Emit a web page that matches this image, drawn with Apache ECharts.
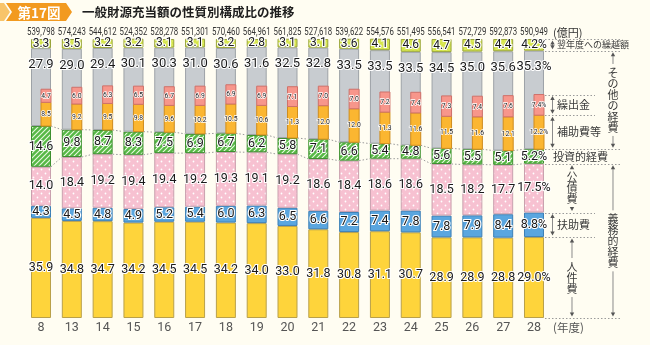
<!DOCTYPE html>
<html>
<head>
<meta charset="utf-8">
<script src="https://cdn.jsdelivr.net/npm/echarts@6/dist/echarts.min.js"></script>
<style>
  html, body { margin: 0; padding: 0; background: #fffdf2; }
  #chart { width: 650px; height: 345px; }
</style>
</head>
<body>
<div id="chart"></div>
<script>
// 年度 (category axis)
const years = ['8', '13', '14', '15', '16', '17', '18', '19', '20', '21', '22', '23', '24', '25', '26', '27', '28'];
// 一般財源充当額の合計 (億円)
const totals = ['539,798', '574,243', '544,612', '524,352', '528,278', '551,301', '570,460', '564,961', '561,825',
                '527,618', '539,622', '554,576', '551,495', '556,541', '572,729', '592,873', '590,949'];

// 構成比 (%)
const personnel  = [35.9, 34.8, 34.7, 34.2, 34.5, 34.5, 34.2, 34.0, 33.0, 31.8, 30.8, 31.1, 30.7, 28.9, 28.9, 28.8, 29.0]; // 人件費
const assistance = [4.3, 4.5, 4.8, 4.9, 5.2, 5.4, 6.0, 6.3, 6.5, 6.6, 7.2, 7.4, 7.8, 7.8, 7.9, 8.4, 8.8];                 // 扶助費
const debt       = [14.0, 18.4, 19.2, 19.4, 19.4, 19.2, 19.3, 19.1, 19.2, 18.6, 18.4, 18.6, 18.6, 18.5, 18.2, 17.7, 17.5]; // 公債費
const investment = [14.6, 9.8, 8.7, 8.3, 7.5, 6.9, 6.7, 6.2, 5.8, 7.1, 6.6, 5.4, 4.8, 5.6, 5.5, 5.1, 5.2];                 // 投資的経費
const other      = [27.9, 29.0, 29.4, 30.1, 30.3, 31.0, 30.6, 31.6, 32.5, 32.8, 33.5, 33.5, 33.5, 34.5, 35.0, 35.6, 35.3]; // その他の経費
const carryover  = [3.3, 3.5, 3.2, 3.2, 3.1, 3.1, 3.2, 2.8, 3.1, 3.1, 3.6, 4.1, 4.6, 4.7, 4.5, 4.4, 4.2];                 // 翌年度への繰越額
// その他の経費の内訳
const subsidies  = [8.5, 9.2, 9.5, 9.8, 9.6, 10.2, 10.5, 10.6, 11.3, 12.0, 12.0, 11.3, 11.6, 11.5, 11.6, 12.1, 12.2];     // 補助費等
const transfers  = [4.7, 6.0, 6.3, 6.5, 6.7, 6.9, 6.9, 6.9, 7.1, 7.0, 7.0, 7.2, 7.4, 7.3, 7.4, 7.6, 7.4];                 // 繰出金

const BAR_W = 20;
const LAST = years.length - 1;
const BG = '#fffdf2';
const NUM_FONT = 'Roboto, "Noto Sans", sans-serif';
const JP_FONT = '"Noto Sans CJK JP", "Noto Sans", sans-serif';

// running sums used as the base of stacked pieces and connector lines
const sumUpTo = (arrs) => years.map((_, i) => arrs.reduce((s, a) => s + a[i], 0));
const cumDebtTop = sumUpTo([personnel, assistance, debt]);
const cumInvTop = sumUpTo([personnel, assistance, debt, investment]);
const cumAll = sumUpTo([personnel, assistance, debt, investment, other, carryover]);

function makePattern(bg, draw, w, h) {
  const c = document.createElement('canvas');
  c.width = w; c.height = h;
  const g = c.getContext('2d');
  g.fillStyle = bg; g.fillRect(0, 0, w, h);
  draw(g);
  return { image: c, repeat: 'repeat' };
}
const dot = (g, x, y, r) => { g.beginPath(); g.arc(x, y, r, 0, Math.PI * 2); g.fill(); };
const pinkDots = makePattern('#f7c1d1', g => { g.fillStyle = '#ffffff'; dot(g, 1.5, 1.5, 0.9); dot(g, 5.5, 5.5, 0.9); }, 8, 8);
const greenHatch = makePattern('#56b845', g => {
  g.strokeStyle = '#e8f8e0'; g.lineWidth = 1.1;
  g.beginPath();
  g.moveTo(-1, 6); g.lineTo(6, -1);
  g.moveTo(-1, 1); g.lineTo(1, -1);
  g.moveTo(4, 6); g.lineTo(6, 4);
  g.stroke();
}, 5, 5);
const limeDots = makePattern('#d5e548', g => { g.fillStyle = '#eaf3a0'; dot(g, 1, 1, 0.6); dot(g, 3, 3, 0.6); }, 4, 4);

const pctFmt = (p) => p.value.toFixed(1) + (p.dataIndex === LAST ? '%' : '');
const baseLabel = {
  show: true, position: 'inside', formatter: pctFmt,
  fontFamily: NUM_FONT, fontSize: 12.5, color: '#1a1a1a',
  textBorderColor: '#ffffff', textBorderWidth: 2.2
};

function barSeries(name, data, fill, border, label) {
  return {
    name, type: 'bar', stack: 'total', data, barWidth: BAR_W, z: 3,
    itemStyle: { color: fill, borderColor: border, borderWidth: 1 },
    label: Object.assign({}, baseLabel, label || {})
  };
}

// narrow bars (補助費等・繰出金) drawn in the right half of the その他の経費 segment
function innerSeries(name, lows, vals, fill, border) {
  return {
    name, type: 'custom', z: 4,
    data: years.map((_, i) => [i, lows[i], lows[i] + vals[i], vals[i]]),
    encode: { x: 0, y: [1, 2] },
    renderItem: (params, api) => {
      const i = api.value(0);
      const p0 = api.coord([i, api.value(1)]);
      const p1 = api.coord([i, api.value(2)]);
      const x = p0[0];
      const w = BAR_W / 2;
      const txt = api.value(3).toFixed(1) + (i === LAST ? '%' : '');
      return {
        type: 'group',
        children: [
          { type: 'rect', shape: { x: x, y: p1[1], width: w, height: p0[1] - p1[1] },
            style: { fill: fill, stroke: border, lineWidth: 1 } },
          { type: 'text', x: x + w / 2, y: (p0[1] + p1[1]) / 2, scaleX: 0.85,
            style: { text: txt, align: 'center', verticalAlign: 'middle', fontFamily: NUM_FONT, fontSize: 8,
                     fill: '#222', stroke: '#ffffff', lineWidth: 1.6 } }
        ]
      };
    }
  };
}

// dotted links between neighbouring bars at a segment boundary
function linkSeries(name, values) {
  return {
    name, type: 'custom', z: 1, silent: true,
    data: values.slice(0, -1).map((v, i) => [i, v, values[i + 1]]),
    encode: { x: 0, y: [1, 2] },
    renderItem: (params, api) => {
      const i = api.value(0);
      const a = api.coord([i, api.value(1)]);
      const b = api.coord([i + 1, api.value(2)]);
      return { type: 'line',
        shape: { x1: a[0] + BAR_W / 2, y1: a[1], x2: b[0] - BAR_W / 2, y2: b[1] },
        style: { stroke: '#9a9a9a', lineWidth: 1, lineDash: [1.5, 2] } };
    }
  };
}

// totals printed above each bar
const totalSeries = {
  name: '合計', type: 'custom', z: 5, silent: true,
  data: years.map((_, i) => [i, cumAll[i]]),
  encode: { x: 0, y: 1 },
  renderItem: (params, api) => {
    const i = api.value(0);
    const p = api.coord([i, 100]);
    return { type: 'text', x: p[0], y: p[1] - 6.5, scaleX: 0.68,
      style: { text: totals[i], align: 'center', verticalAlign: 'middle', fontFamily: NUM_FONT,
               fontSize: 11.5, fill: '#333' } };
  }
};

const chart = echarts.init(document.getElementById('chart'), null, { renderer: 'canvas' });

chart.setOption({
  animation: false,
  backgroundColor: BG,
  grid: { left: 25.6, right: 100.6, top: 39, bottom: 27, containLabel: false, outerBoundsMode: 'none' },
  xAxis: {
    type: 'category', data: years, position: 'bottom',
    axisLine: { show: false }, axisTick: { show: false },
    axisLabel: { interval: 0, margin: 3, fontFamily: NUM_FONT, fontSize: 12.5, color: '#555' }
  },
  yAxis: { type: 'value', min: 0, max: 100, show: false, splitLine: { show: false } },
  series: [
    barSeries('人件費', personnel, '#fed43b', '#b9a04a'),
    barSeries('扶助費', assistance, '#5aa6df', '#3c7fb6'),
    barSeries('公債費', debt, pinkDots, '#c9a0ae'),
    barSeries('投資的経費', investment, greenHatch, '#3c8f2e'),
    barSeries('その他の経費', other, '#c8ccd0', '#9da2a7', { position: 'insideTop', distance: 10, fontSize: 13 }),
    barSeries('翌年度への繰越額', carryover, limeDots, '#98a43a', { fontSize: 12 }),
    innerSeries('補助費等', cumInvTop, subsidies, '#fbb631', '#d08d1d'),
    innerSeries('繰出金', cumInvTop.map((v, i) => v + subsidies[i]), transfers, '#f7968b', '#cf716a'),
    linkSeries('link-debt', cumDebtTop),
    linkSeries('link-inv', cumInvTop),
    totalSeries
  ]
});

// ---- title and right-hand annotations ----
const toPx = (v) => chart.convertToPixel({ xAxisIndex: 0, yAxisIndex: 0 }, [LAST, v]);
const xr = toPx(0)[0] + BAR_W / 2;
const Y = (v) => toPx(v)[1];

const c1 = personnel[LAST];
const c2 = c1 + assistance[LAST];
const c3 = c2 + debt[LAST];
const c4 = c3 + investment[LAST];
const c5 = c4 + other[LAST];
const c6 = c5 + carryover[LAST];
const s1 = c4 + subsidies[LAST];
const s2 = s1 + transfers[LAST];

const G = [];
const LINE_C = '#8a8a8a';
const TXT_C = '#3a3a3a';

function dotted(v, long) {
  const y = Math.round(Y(v)) + 0.5;
  G.push({ type: 'line', z: 100, shape: { x1: xr + 1, y1: y, x2: xr + (long ? 78 : 51), y2: y },
           style: { stroke: '#9a9a9a', lineWidth: 1, lineDash: [1.5, 2] } });
}
function head(x, y, dir) { // dir: -1 points up, 1 points down; y is the tip
  G.push({ type: 'polygon', z: 100, shape: { points: [[x, y], [x - 2.2, y - dir * 4], [x + 2.2, y - dir * 4]] },
           style: { fill: '#555' } });
}
function vline(x, y1, y2) {
  if (y2 <= y1) return;
  G.push({ type: 'line', z: 100, shape: { x1: x, y1: y1, x2: x, y2: y2 }, style: { stroke: LINE_C, lineWidth: 1 } });
}
function doubleArrow(vTop, vBot, label, size) {
  const x = xr + 8.5;
  const yt = Y(vTop) + 1.5, yb = Y(vBot) - 1.5;
  vline(x, yt + 3, yb - 3);
  head(x, yt, -1); head(x, yb, 1);
  G.push({ type: 'text', z: 100, x: xr + 13, y: (Y(vTop) + Y(vBot)) / 2,
           style: { text: label, fontFamily: JP_FONT, fontSize: size || 11, fill: TXT_C, verticalAlign: 'middle' } });
}
function verticalLabel(vTop, vBot, label, dx, lh) {
  const x = xr + dx;
  const yt = Y(vTop) + 1.5, yb = Y(vBot) - 1.5;
  const ym = (yt + yb) / 2;
  const h = label.length * lh;
  vline(x, yt + 3, ym - h / 2 - 3);
  vline(x, ym + h / 2 + 3, yb - 3);
  head(x, yt, -1); head(x, yb, 1);
  G.push({ type: 'text', z: 101, x: x, y: ym,
           style: { text: label.split('').join('\n'), fontFamily: JP_FONT, fontSize: 11, lineHeight: lh,
                    fill: TXT_C, align: 'center', verticalAlign: 'middle', backgroundColor: BG, padding: [1, 0] } });
}

// title badge
G.push({ type: 'polygon', z: 100, shape: { points: [[0, 3], [4, 3], [10, 12], [4, 21], [0, 21]] }, style: { fill: '#f8c46a' } });
G.push({ type: 'polygon', z: 100, shape: { points: [[6, 3], [66, 3], [72, 12], [66, 21], [6, 21], [12, 12]] }, style: { fill: '#f29a1f' } });
G.push({ type: 'text', z: 101, x: 39, y: 12.5,
         style: { text: '第17図', fontFamily: JP_FONT, fontSize: 13.5, fontWeight: 'bold', fill: '#ffffff', align: 'center', verticalAlign: 'middle' } });
G.push({ type: 'text', z: 101, x: 82, y: 12.5,
         style: { text: '一般財源充当額の性質別構成比の推移', fontFamily: JP_FONT, fontSize: 12.5, fontWeight: 'bold', fill: '#1e1e1e', verticalAlign: 'middle' } });

// unit notes
G.push({ type: 'text', z: 100, x: xr + 9, y: Y(100) - 6.5,
         style: { text: '(億円)', fontFamily: JP_FONT, fontSize: 11, fill: '#333', verticalAlign: 'middle' } });
G.push({ type: 'text', z: 100, x: xr + 9, y: Y(0) + 10,
         style: { text: '(年度)', fontFamily: JP_FONT, fontSize: 11.5, fill: '#555', verticalAlign: 'middle' } });

// boundary guides for the latest year
dotted(c6, true); dotted(c5, true); dotted(s2, false); dotted(s1, false);
dotted(c4, true); dotted(c3, true); dotted(c2, false); dotted(c1, false); dotted(0, true);

doubleArrow(c6, c5, '翌年度への繰越額', 9);
doubleArrow(s2, s1, '繰出金');
doubleArrow(s1, c4, '補助費等');
G.push({ type: 'text', z: 100, x: xr + 9, y: (Y(c4) + Y(c3)) / 2,
         style: { text: '投資的経費', fontFamily: JP_FONT, fontSize: 11, fill: TXT_C, verticalAlign: 'middle' } });
verticalLabel(c3, c2, '公債費', 28, 11);
doubleArrow(c2, c1, '扶助費');
verticalLabel(c1, 0, '人件費', 28, 11);
verticalLabel(c5, c4, 'その他の経費', 69, 11);
verticalLabel(c3, 0, '義務的経費', 69, 11);

chart.setOption({ graphic: G });
</script>
</body>
</html>
